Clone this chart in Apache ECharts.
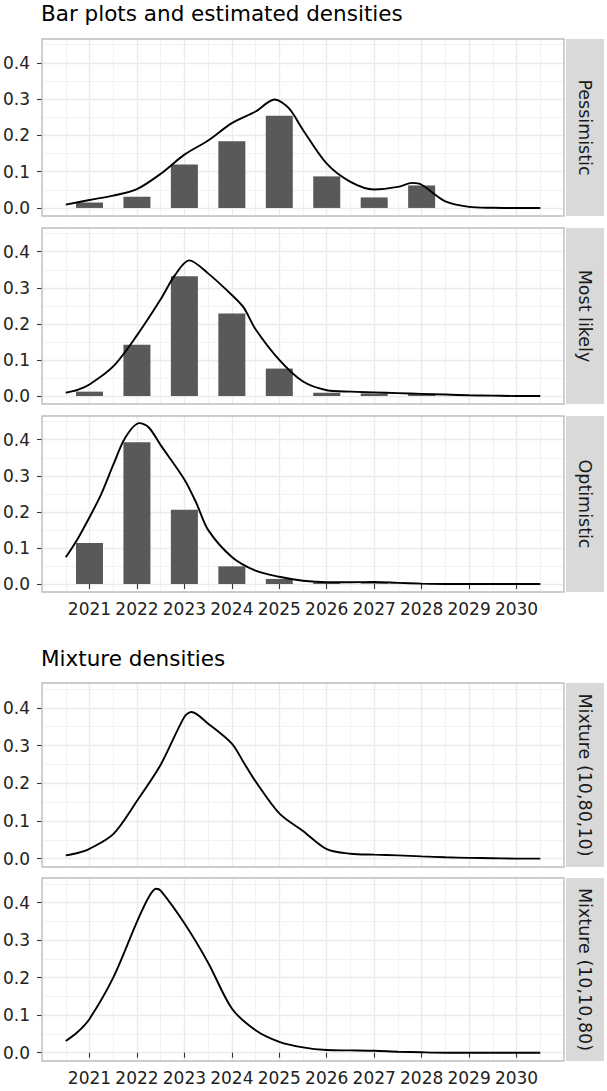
<!DOCTYPE html>
<html>
<head>
<meta charset="utf-8">
<script src="https://cdn.jsdelivr.net/npm/echarts@6/dist/echarts.min.js"></script>
<style>
  html, body { margin: 0; padding: 0; background: #ffffff; }
  #chart { width: 607px; height: 1091px; }
</style>
</head>
<body>
<div id="chart"></div>
<script>
// ---- tick labels / categories ----
const yearTicks = [2021, 2022, 2023, 2024, 2025, 2026, 2027, 2028, 2029, 2030];
const yearMinor = [2020.5, 2021.5, 2022.5, 2023.5, 2024.5, 2025.5, 2026.5, 2027.5, 2028.5, 2029.5, 2030.5];
const densityTicks = [0, 0.1, 0.2, 0.3, 0.4];
const densityMinor = [0.05, 0.15, 0.25, 0.35, 0.45];
const panelNames = ['Pessimistic', 'Most likely', 'Optimistic', 'Mixture (10,80,10)', 'Mixture (10,10,80)'];
const titleTop = 'Bar plots and estimated densities';
const titleBottom = 'Mixture densities';

// ---- bar values (probability per year) ----
const barYears = [2021, 2022, 2023, 2024, 2025, 2026, 2027, 2028, 2029, 2030];
const pessimisticBars = [0.015, 0.031, 0.120, 0.184, 0.254, 0.087, 0.029, 0.062, 0, 0];
const mostLikelyBars  = [0.012, 0.142, 0.332, 0.229, 0.076, 0.009, 0.007, 0.005, 0, 0];
const optimisticBars  = [0.114, 0.393, 0.206, 0.049, 0.014, 0.003, 0.002, 0, 0, 0];

// ---- estimated densities ----
const pessimisticDensX = [2020.5, 2021, 2021.5, 2022, 2022.5, 2023, 2023.5, 2024, 2024.5, 2024.9, 2025.2, 2025.5, 2026, 2026.5, 2027, 2027.5, 2027.8, 2028, 2028.5, 2029, 2029.5, 2030, 2030.5];
const pessimisticDensY = [0.009, 0.022, 0.034, 0.052, 0.094, 0.147, 0.186, 0.234, 0.266, 0.299, 0.275, 0.215, 0.122, 0.072, 0.051, 0.058, 0.069, 0.064, 0.018, 0.003, 0.0005, 0, 0];

const mostLikelyDensX = [2020.5, 2020.75, 2021, 2021.5, 2022, 2022.5, 2022.8, 2023.1, 2023.5, 2024, 2024.25, 2024.5, 2025, 2025.5, 2026, 2026.5, 2027, 2027.5, 2028, 2028.5, 2029, 2029.5, 2030, 2030.5];
const mostLikelyDensY = [0.009, 0.017, 0.032, 0.082, 0.168, 0.268, 0.335, 0.376, 0.34, 0.28, 0.245, 0.185, 0.1, 0.04, 0.016, 0.012, 0.01, 0.008, 0.006, 0.004, 0.002, 0.001, 0, 0];

const optimisticDensX = [2020.5, 2020.75, 2021, 2021.25, 2021.5, 2021.75, 2022.05, 2022.25, 2022.5, 2023, 2023.25, 2023.5, 2024, 2024.5, 2025, 2025.5, 2026, 2026.5, 2027, 2027.5, 2028, 2028.5, 2029, 2030, 2030.5];
const optimisticDensY = [0.074, 0.125, 0.185, 0.25, 0.33, 0.405, 0.446, 0.434, 0.385, 0.29, 0.225, 0.15, 0.075, 0.037, 0.02, 0.009, 0.005, 0.005, 0.0055, 0.003, 0.001, 0, 0, 0, 0];

const mixture1DensX = [2020.5, 2020.75, 2021, 2021.5, 2022, 2022.5, 2023, 2023.15, 2023.5, 2024, 2024.25, 2024.5, 2025, 2025.5, 2026, 2026.5, 2027, 2027.5, 2028, 2028.5, 2029, 2029.5, 2030, 2030.5];
const mixture1DensY = [0.0087, 0.015, 0.026, 0.065, 0.153, 0.249, 0.376, 0.389, 0.358, 0.305, 0.255, 0.205, 0.12, 0.073, 0.025, 0.013, 0.0105, 0.0087, 0.006, 0.0035, 0.002, 0.001, 0, 0];

const mixture2DensX = [2020.5, 2020.75, 2021, 2021.5, 2022, 2022.25, 2022.4, 2022.5, 2023, 2023.5, 2024, 2024.5, 2025, 2025.5, 2026, 2026.5, 2027, 2027.5, 2028, 2028.5, 2029, 2030, 2030.5];
const mixture2DensY = [0.031, 0.055, 0.09, 0.2, 0.349, 0.415, 0.437, 0.432, 0.345, 0.24, 0.118, 0.06, 0.029, 0.014, 0.007, 0.006, 0.005, 0.0026, 0.001, 0, 0, 0, 0];

// ---- layout ----
const FONT = 'DejaVu Sans';
const panels = [
  { top: 39,  height: 177, bars: pessimisticBars, dx: pessimisticDensX, dy: pessimisticDensY, xLabels: false },
  { top: 228, height: 176, bars: mostLikelyBars,  dx: mostLikelyDensX,  dy: mostLikelyDensY,  xLabels: false },
  { top: 416, height: 176, bars: optimisticBars,  dx: optimisticDensX,  dy: optimisticDensY,  xLabels: true },
  { top: 683, height: 184, bars: null,            dx: mixture1DensX,    dy: mixture1DensY,     xLabels: false },
  { top: 878, height: 183, bars: null,            dx: mixture2DensX,    dy: mixture2DensY,     xLabels: true }
];
const LEFT = 42, PANEL_W = 522, STRIP_X = 566, STRIP_W = 38;

const grids = [], xAxes = [], yAxes = [], series = [], graphics = [];
panels.forEach((p, i) => {
  grids.push({
    left: LEFT, top: p.top, width: PANEL_W, height: p.height,
    show: true, backgroundColor: 'transparent', borderColor: '#BDBDBD', borderWidth: 1.4, z: 6
  });
  xAxes.push({
    type: 'value', gridIndex: i, min: 2020, max: 2031,
    axisLine: { show: false },
    splitLine: { show: false },
    axisTick: { show: p.xLabels, customValues: yearTicks, length: 5, lineStyle: { color: '#333333', width: 1.1 } },
    axisLabel: { show: p.xLabels, customValues: yearTicks, margin: 8, color: '#222222', fontSize: 17, fontFamily: FONT,
                 formatter: v => String(v) }
  });
  yAxes.push({
    type: 'value', gridIndex: i, min: -0.0222, max: 0.4658,
    axisLine: { show: false },
    splitLine: { show: false },
    axisTick: { show: true, customValues: densityTicks, length: 5, lineStyle: { color: '#333333', width: 1.1 } },
    axisLabel: { show: true, customValues: densityTicks, margin: 12, color: '#222222', fontSize: 17, fontFamily: FONT,
                 formatter: v => v.toFixed(1) }
  });
  // background grid lines, positioned through the axes
  const majorStyle = { color: '#EBEBEB', width: 1.4, type: 'solid' };
  const minorStyle = { color: '#EFEFEF', width: 0.8, type: 'solid' };
  series.push({
    type: 'line', xAxisIndex: i, yAxisIndex: i, z: 0, zlevel: 0, silent: true,
    data: [[2020.5, 0]], showSymbol: false, lineStyle: { width: 0 },
    markLine: {
      z: 0, zlevel: 0,
      silent: true, symbol: ['none', 'none'], animation: false, label: { show: false },
      emphasis: { disabled: true },
      data: [].concat(
        densityMinor.map(v => ({ yAxis: v, lineStyle: minorStyle })),
        yearMinor.map(v => ({ xAxis: v, lineStyle: minorStyle })),
        densityTicks.map(v => ({ yAxis: v, lineStyle: majorStyle })),
        yearTicks.map(v => ({ xAxis: v, lineStyle: majorStyle }))
      )
    }
  });
  if (p.bars) {
    series.push({
      type: 'bar', xAxisIndex: i, yAxisIndex: i, z: 3, barWidth: 27,
      itemStyle: { color: '#595959' },
      data: barYears.map((y, k) => [y, p.bars[k]]),
      animation: false
    });
  }
  series.push({
    type: 'line', xAxisIndex: i, yAxisIndex: i, z: 4,
    data: p.dx.map((x, k) => [x, p.dy[k]]),
    showSymbol: false, symbol: 'none', smooth: 0.3,
    lineStyle: { color: '#000000', width: 1.9 },
    animation: false
  });
  // facet strip
  graphics.push({
    type: 'rect', shape: { x: STRIP_X, y: p.top, width: STRIP_W, height: p.height },
    style: { fill: '#D9D9D9' }, silent: true
  });
  graphics.push({
    type: 'text', x: STRIP_X + STRIP_W / 2, y: p.top + p.height / 2, rotation: -Math.PI / 2,
    style: { text: panelNames[i], fill: '#1A1A1A', fontSize: 17.5, fontFamily: FONT, align: 'center', verticalAlign: 'middle' },
    silent: true
  });
});

const chart = echarts.init(document.getElementById('chart'), null, { renderer: 'svg' });
chart.setOption({
  animation: false,
  backgroundColor: '#ffffff',
  title: [
    { text: titleTop, left: 41, top: 1, padding: 0,
      textStyle: { fontSize: 21.5, fontWeight: 'normal', color: '#000000', fontFamily: FONT, lineHeight: 24 } },
    { text: titleBottom, left: 41, top: 646, padding: 0,
      textStyle: { fontSize: 21.5, fontWeight: 'normal', color: '#000000', fontFamily: FONT, lineHeight: 24 } }
  ],
  grid: grids,
  xAxis: xAxes,
  yAxis: yAxes,
  series: series,
  graphic: graphics
});
</script>
</body>
</html>
